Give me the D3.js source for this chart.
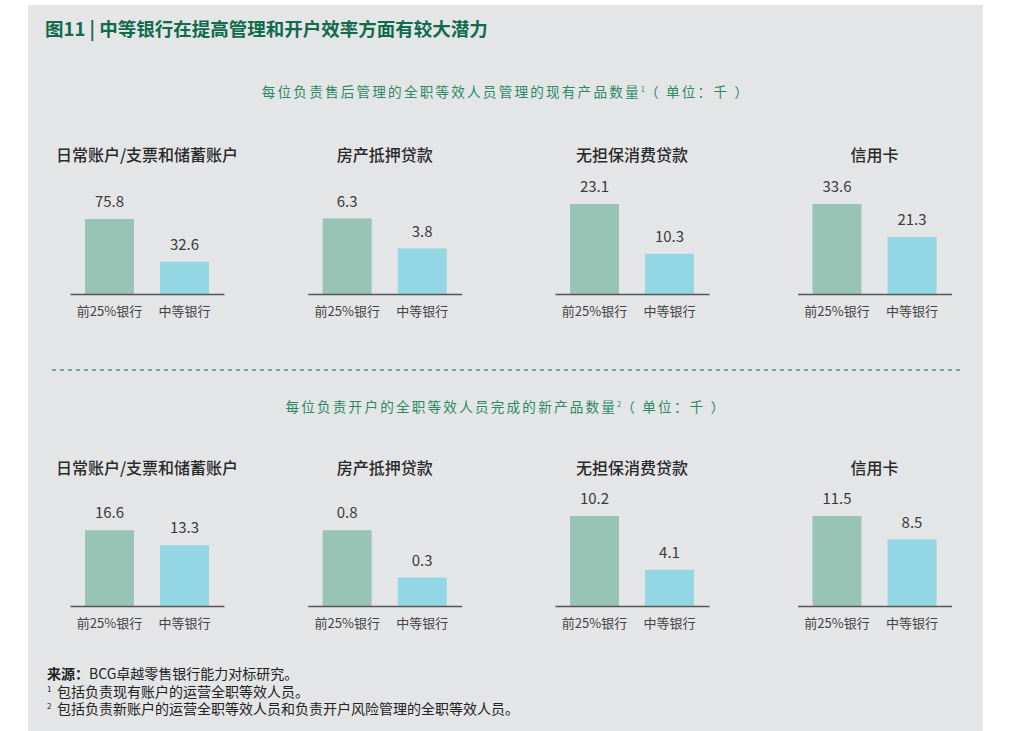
<!DOCTYPE html>
<html>
<head>
<meta charset="utf-8">
<script src="https://cdn.jsdelivr.net/npm/d3@7"></script>
<style>
  body { margin: 0; background: #fff; }
  svg text { font-family: "Noto Sans CJK SC", "Noto Sans", sans-serif; }
</style>
</head>
<body>
<svg id="chart" width="1012" height="731"></svg>
<script>
// 图11 — two rows of small bar charts, one per product

const categories = ["日常账户/支票和储蓄账户", "房产抵押贷款", "无担保消费贷款", "信用卡"];
const banks = ["前25%银行", "中等银行"];

// 每位负责售后管理的全职等效人员管理的现有产品数量
const serviceValues = [[75.8, 32.6], [6.3, 3.8], [23.1, 10.3], [33.6, 21.3]];
// 每位负责开户的全职等效人员完成的新产品数量
const openingValues = [[16.6, 13.3], [0.8, 0.3], [10.2, 4.1], [11.5, 8.5]];

// the original scales each small chart on its own
const serviceMax = [91, 7.5, 23.1, 33.6];
const openingMax = [19.7, 0.95, 10.2, 11.5];

const titleText = "图11 | 中等银行在提高管理和开户效率方面有较大潜力";
const rowTitles = [
  ["每位负责售后管理的全职等效人员管理的现有产品数量", "1", "（ 单位：千 ）"],
  ["每位负责开户的全职等效人员完成的新产品数量", "2", "（ 单位：千 ）"]
];
const notes = [
  ["来源：", "BCG卓越零售银行能力对标研究。"],
  ["1", "包括负责现有账户的运营全职等效人员。"],
  ["2", "包括负责新账户的运营全职等效人员和负责开户风险管理的全职等效人员。"]
];

const width = 1012, height = 731;
const barColors = ["#98c4b6", "#93d6e4"];
const darkGreen = "#0f6b4b", midGreen = "#2b8a64";

const svg = d3.select("#chart");

svg.append("rect")
  .attr("x", 28).attr("y", 5)
  .attr("width", 955).attr("height", height - 5)
  .attr("fill", "#e4e5e7");

svg.append("text")
  .attr("x", 45).attr("y", 30).attr("dy", "0.35em")
  .attr("font-size", 18.5).attr("font-weight", 700)
  .attr("fill", darkGreen)
  .text(titleText);

// the small charts are not quite evenly spaced in the original
const chartX = d3.scaleOrdinal().domain(categories).range([147, 384.7, 632, 874.5]);
const axisWidth = 154, plotHeight = 90;

const rows = [
  { values: serviceValues, max: serviceMax, subtitleY: 92, titleY: 155, base: 294 },
  { values: openingValues, max: openingMax, subtitleY: 407, titleY: 468, base: 606 }
];

rows.forEach((row, r) => {
  const st = svg.append("text")
    .attr("x", 506).attr("y", row.subtitleY).attr("dy", "0.35em")
    .attr("text-anchor", "middle")
    .attr("font-size", 13.6).attr("letter-spacing", 2.2)
    .attr("fill", midGreen);
  st.append("tspan").text(rowTitles[r][0]);
  st.append("tspan").attr("font-size", 7.5).attr("dy", -5).attr("letter-spacing", 0).text(rowTitles[r][1]);
  st.append("tspan").attr("dy", 5).text(rowTitles[r][2]);

  categories.forEach((cat, i) => {
    const x0 = chartX(cat) - axisWidth / 2;
    const g = svg.append("g").attr("transform", `translate(${x0},0)`);
    const x = d3.scaleBand().domain(banks).range([0, axisWidth])
      .paddingInner(0.347).paddingOuter(0.2);
    const y = d3.scaleLinear().domain([0, row.max[i]]).range([row.base, row.base - plotHeight]);
    const data = banks.map((b, k) => ({ bank: b, value: row.values[i][k], k }));

    g.append("text")
      .attr("x", axisWidth / 2).attr("y", row.titleY).attr("dy", "0.35em")
      .attr("text-anchor", "middle")
      .attr("font-size", 16).attr("font-weight", 500)
      .attr("fill", "#2a2a2a")
      .text(cat);

    g.selectAll("rect.bar")
      .data(data)
      .join("rect")
      .attr("class", "bar")
      .attr("x", d => x(d.bank))
      .attr("width", x.bandwidth())
      .attr("y", d => y(d.value))
      .attr("height", d => y(0) - y(d.value))
      .attr("fill", d => barColors[d.k]);

    g.selectAll("text.val")
      .data(data)
      .join("text")
      .attr("class", "val")
      .attr("x", d => x(d.bank) + x.bandwidth() / 2)
      .attr("y", d => y(d.value) - 17).attr("dy", "0.35em")
      .attr("text-anchor", "middle")
      .attr("font-size", 15)
      .attr("fill", "#3a3a3a")
      .text(d => d.value.toFixed(1));

    const axis = g.append("g")
      .attr("transform", `translate(0,${row.base})`)
      .call(d3.axisBottom(x).tickSize(0).tickPadding(13));
    axis.select(".domain").attr("stroke", "#555").attr("stroke-width", 1.5);
    axis.selectAll("text")
      .attr("font-size", 13)
      .attr("fill", "#444")
      .attr("font-family", "'Noto Sans CJK SC', sans-serif");
  });
});

svg.append("line")
  .attr("x1", 52).attr("x2", 960)
  .attr("y1", 370).attr("y2", 370)
  .attr("stroke", darkGreen).attr("stroke-width", 1)
  .attr("stroke-dasharray", "4,4");

notes.forEach((n, i) => {
  const baseline = 679 + i * 17.5;
  const t = svg.append("text")
    .attr("x", 47).attr("y", baseline)
    .attr("font-size", 14).attr("fill", "#222");
  if (i === 0) {
    t.append("tspan").attr("font-weight", 700).text(n[0]);
    t.append("tspan").text(n[1]);
  } else {
    t.append("tspan").attr("font-size", 8).attr("y", baseline - 5).text(n[0]);
    t.append("tspan").attr("x", 57).attr("y", baseline).text(n[1]);
  }
});
</script>
</body>
</html>
